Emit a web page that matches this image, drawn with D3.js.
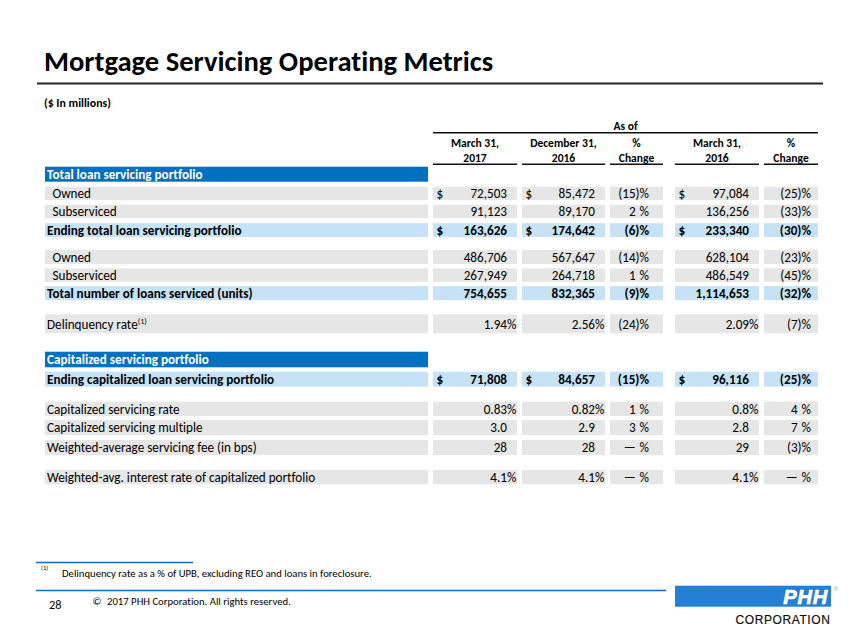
<!DOCTYPE html>
<html>
<head>
<meta charset="utf-8">
<script src="https://cdn.jsdelivr.net/npm/d3@7"></script>
<style>
  html, body { margin: 0; padding: 0; background: #fff; }
  svg { display: block; }
  svg text { font-variant-ligatures: none; font-feature-settings: "liga" 0, "clig" 0; }
</style>
</head>
<body>
<div id="chart"></div>
<script>
// ---------------- DATA ----------------
const rowLabels = [
  "Total loan servicing portfolio",
  "Owned",
  "Subserviced",
  "Ending total loan servicing portfolio",
  "Owned",
  "Subserviced",
  "Total number of loans serviced (units)",
  "Delinquency rate",
  "Capitalized servicing portfolio",
  "Ending capitalized loan servicing portfolio",
  "Capitalized servicing rate",
  "Capitalized servicing multiple",
  "Weighted-average servicing fee (in bps)",
  "Weighted-avg. interest rate of capitalized portfolio"
];
const rowKinds = ["section","sub","sub","total","sub","sub","total","item","section","total","item","item","item","item"];
const rowFormats = [null,"usd","num","usd","num","num","num","pct",null,"usd","pct","mult","int","pct"];
const footnoteRefs = [null,null,null,null,null,null,null,"(1)",null,null,null,null,null,null];

const mar2017 = [null, 72503, 91123, 163626, 486706, 267949, 754655, 1.94, null, 71808, 0.83, 3.0, 28, 4.1];
const dec2016 = [null, 85472, 89170, 174642, 567647, 264718, 832365, 2.56, null, 84657, 0.82, 2.9, 28, 4.1];
const chgVsDec = [null, -15, 2, -6, -14, 1, -9, -24, null, -15, 1, 3, 0, 0];
const mar2016 = [null, 97084, 136256, 233340, 628104, 486549, 1114653, 2.09, null, 96116, 0.8, 2.8, 29, 4.1];
const chgVsMar = [null, -25, -33, -30, -23, -45, -32, -7, null, -25, 4, 7, -3, 0];

const columnHeaders = [["March 31,","2017"],["December 31,","2016"],["%","Change"],["March 31,","2016"],["%","Change"]];
const columnKinds = ["value","value","change","value","change"];
const groupHeader = "As of";

const titleText = "Mortgage Servicing Operating Metrics";
const unitsText = "($ In millions)";
const footnoteMark = "(1)";
const footnoteText = "Delinquency rate as a % of UPB, excluding REO and loans in foreclosure.";
const pageNumber = "28";
const copyrightText = "2017 PHH Corporation. All rights reserved.";

// ---------------- LAYOUT ----------------
const W = 861, H = 635;
const FONT = "Carlito, Lato, 'Open Sans', sans-serif";
const LOGO_FONT = "'Liberation Sans', Arial, sans-serif";
const C = {
  dark: "#0070C0", light: "#C5E2F7", gray: "#E6E6E6", line: "#0A6CC4", logo: "#2380D4"
};
const labelCol = [45, 428];
const dataCols = [[433,517],[522,605],[610,663],[675,759],[764,818]];
const rowH = [15, 13.5, 13.5, 13.8, 14, 13.5, 14, 19, 15.6, 15, 14.3, 15, 15, 14.3];
const gapBefore = [0, 5, 4.5, 5, 13, 4.3, 4.3, 14.2, 18.4, 4.4, 15, 4, 5, 15];
const firstTop = 166.7;

// cumulative row tops -> linear scale from stacked units
const tops = [];
{ let t = 0; rowH.forEach((h,i)=>{ t += gapBefore[i]; tops.push(t); t += h; }); }
const y = d3.scaleLinear().domain([0,1]).range([firstTop, firstTop+1]);

// font fitting using canvas measurement
const ctx = document.createElement("canvas").getContext("2d");
function fit(text, weight, family, target, style) {
  ctx.font = `${style||""} ${weight} 100px ${family}`;
  return 100 * target / ctx.measureText(text).width;
}
const fsCell = fit("Weighted-avg. interest rate of capitalized portfolio", 400, FONT, 268);
const fsTitle = fit(titleText, 700, FONT, 449);
const fsUnits = fit(unitsText, 700, FONT, 67);
const fsFoot = fit(footnoteText, 400, FONT, 310);
const fsCopy = fit(copyrightText, 400, FONT, 184);
const fsHead = fit("December 31,", 700, FONT, 66.7);

const svg = d3.select("#chart").append("svg").attr("width", W).attr("height", H)
  .style("font-family", FONT);

// Title
svg.append("text").attr("x", 44).attr("y", 71).attr("font-size", fsTitle)
  .attr("font-weight", 700).attr("fill", "#000").text(titleText);
svg.append("line").attr("x1", 37).attr("x2", 823).attr("y1", 83.5).attr("y2", 83.5)
  .attr("stroke", "#222").attr("stroke-width", 2);
svg.append("text").attr("x", 44).attr("y", 107).attr("font-size", fsUnits)
  .attr("font-weight", 700).text(unitsText);

// Column headers
const hdr = svg.append("g");
hdr.append("text").attr("x", (dataCols[0][0]+dataCols[4][1])/2).attr("y", 130)
  .attr("text-anchor","middle").attr("font-weight",700).attr("font-size", fsHead).text(groupHeader);
hdr.append("line").attr("x1", dataCols[0][0]).attr("x2", dataCols[4][1]).attr("y1", 132.8).attr("y2", 132.8)
  .attr("stroke","#111").attr("stroke-width",1.6);
columnHeaders.forEach((lines, j) => {
  const [a,b] = dataCols[j];
  const cx = (a+b)/2;
  lines.forEach((ln, k) => {
    hdr.append("text").attr("x", cx).attr("y", 147 + k*14.7).attr("text-anchor","middle")
      .attr("font-weight",700).attr("font-size", fsHead).text(ln);
  });
  hdr.append("line").attr("x1", a).attr("x2", b).attr("y1", 164.2).attr("y2", 164.2)
    .attr("stroke","#111").attr("stroke-width",1.6);
});

// Formatting
const fComma = d3.format(",.0f");
const fPct = d3.format(".2~f");
const fMult = d3.format(".1f");
function fmtValue(v, fmt) {
  if (v == null) return {num:"", pct:false};
  if (fmt === "usd" || fmt === "num" || fmt === "int") return {num: fComma(v), pct:false};
  if (fmt === "pct") return {num: fPct(v), pct:true};
  if (fmt === "mult") return {num: fMult(v), pct:false};
  return {num: String(v), pct:false};
}

const valueCols = [mar2017, dec2016, chgVsDec, mar2016, chgVsMar];
const rows = rowLabels.map((lab, i) => ({
  i, label: lab, kind: rowKinds[i], fmt: rowFormats[i], ref: footnoteRefs[i],
  top: y(tops[i]), h: rowH[i], vals: valueCols.map(c => c[i])
}));

const rowG = svg.append("g").selectAll("g").data(rows).join("g");

// label cells
rowG.append("rect")
  .attr("x", labelCol[0]).attr("width", labelCol[1]-labelCol[0])
  .attr("y", d => d.top).attr("height", d => d.h)
  .attr("fill", d => d.kind === "section" ? C.dark : d.kind === "total" ? C.light : C.gray);

const baseY = d => d.top + d.h/2 + fsCell*0.36;

const lab = rowG.append("text")
  .attr("x", d => d.kind === "sub" ? 52.5 : 47)
  .attr("y", baseY)
  .attr("font-size", fsCell)
  .attr("font-weight", d => (d.kind === "section" || d.kind === "total") ? 700 : 400)
  .attr("fill", d => d.kind === "section" ? "#fff" : "#000")
  .text(d => d.label);
lab.filter(d => d.ref).append("tspan").attr("dy", -5).attr("font-size", fsCell*0.62).text(d => d.ref);

// data cells
const dataRows = rowG.filter(d => d.kind !== "section");
dataCols.forEach((col, j) => {
  const [a,b] = col;
  dataRows.append("rect").attr("x", a).attr("width", b-a)
    .attr("y", d => d.top).attr("height", d => d.h)
    .attr("fill", d => d.kind === "total" ? C.light : C.gray);
  const wt = d => d.kind === "total" ? 700 : 400;
  if (columnKinds[j] === "value") {
    dataRows.filter(d => d.fmt === "usd").append("text")
      .attr("x", a+3.5).attr("y", baseY).attr("font-size", fsCell).attr("font-weight", wt).text("$");
    dataRows.append("text").attr("x", b-10).attr("y", baseY).attr("text-anchor","end")
      .attr("font-size", fsCell).attr("font-weight", wt)
      .text(d => fmtValue(d.vals[j], d.fmt).num);
    dataRows.filter(d => fmtValue(d.vals[j], d.fmt).pct).append("text")
      .attr("x", b-10).attr("y", baseY).attr("font-size", fsCell).attr("font-weight", wt).text("%");
  } else {
    const right = j === 2 ? b-14 : b-7;
    const t = dataRows.append("text").attr("x", right).attr("y", baseY).attr("text-anchor","end")
      .attr("font-size", fsCell).attr("font-weight", wt);
    t.each(function(d) {
      const v = d.vals[j];
      const sel = d3.select(this);
      if (v < 0) { sel.append("tspan").text("(" + Math.abs(v) + ")"); }
      else if (v === 0) { sel.append("tspan").text("\u2014"); sel.append("tspan").attr("fill-opacity",0).text(")"); }
      else { sel.append("tspan").text(String(v)); sel.append("tspan").attr("fill-opacity",0).text(")"); }
      sel.append("tspan").text("%");
    });
  }
});

// Footnote
svg.append("line").attr("x1", 36).attr("x2", 193).attr("y1", 562.5).attr("y2", 562.5)
  .attr("stroke", C.line).attr("stroke-width", 1.6);
svg.append("text").attr("x", 41).attr("y", 570).attr("font-size", 6.5).text(footnoteMark);
svg.append("text").attr("x", 62).attr("y", 577).attr("font-size", fsFoot).text(footnoteText);
svg.append("line").attr("x1", 36).attr("x2", 666).attr("y1", 590.5).attr("y2", 590.5)
  .attr("stroke", C.line).attr("stroke-width", 1.6);
svg.append("text").attr("x", 49).attr("y", 609).attr("font-size", fsCopy*1.15).text(pageNumber);
svg.append("text").attr("x", 92.5).attr("y", 605).attr("font-size", fsCopy).text("\u00A9");
svg.append("text").attr("x", 107).attr("y", 605).attr("font-size", fsCopy).text(copyrightText);

// Logo
const logo = svg.append("g");
logo.append("rect").attr("x", 675).attr("y", 585.7).attr("width", 156).attr("height", 21).attr("fill", C.logo);
logo.append("text").attr("x", 828).attr("y", 603.5).attr("text-anchor","end")
  .attr("font-family", LOGO_FONT).attr("font-weight", 700).attr("font-style","italic")
  .attr("font-size", 20).attr("letter-spacing", 0.8).attr("fill", "#fff")
  .attr("stroke", "#fff").attr("stroke-width", 0.7).text("PHH");
logo.append("text").attr("x", 833.5).attr("y", 591).attr("font-family", LOGO_FONT)
  .attr("font-size", 6).attr("fill", "#8a9bb0").text("\u00AE");
logo.append("text").attr("x", 830.5).attr("y", 624).attr("text-anchor","end")
  .attr("font-family", LOGO_FONT).attr("font-size", 12).attr("letter-spacing", 0.6)
  .attr("fill", "#111").attr("stroke", "#111").attr("stroke-width", 0.2).text("CORPORATION");
</script>
</body>
</html>
